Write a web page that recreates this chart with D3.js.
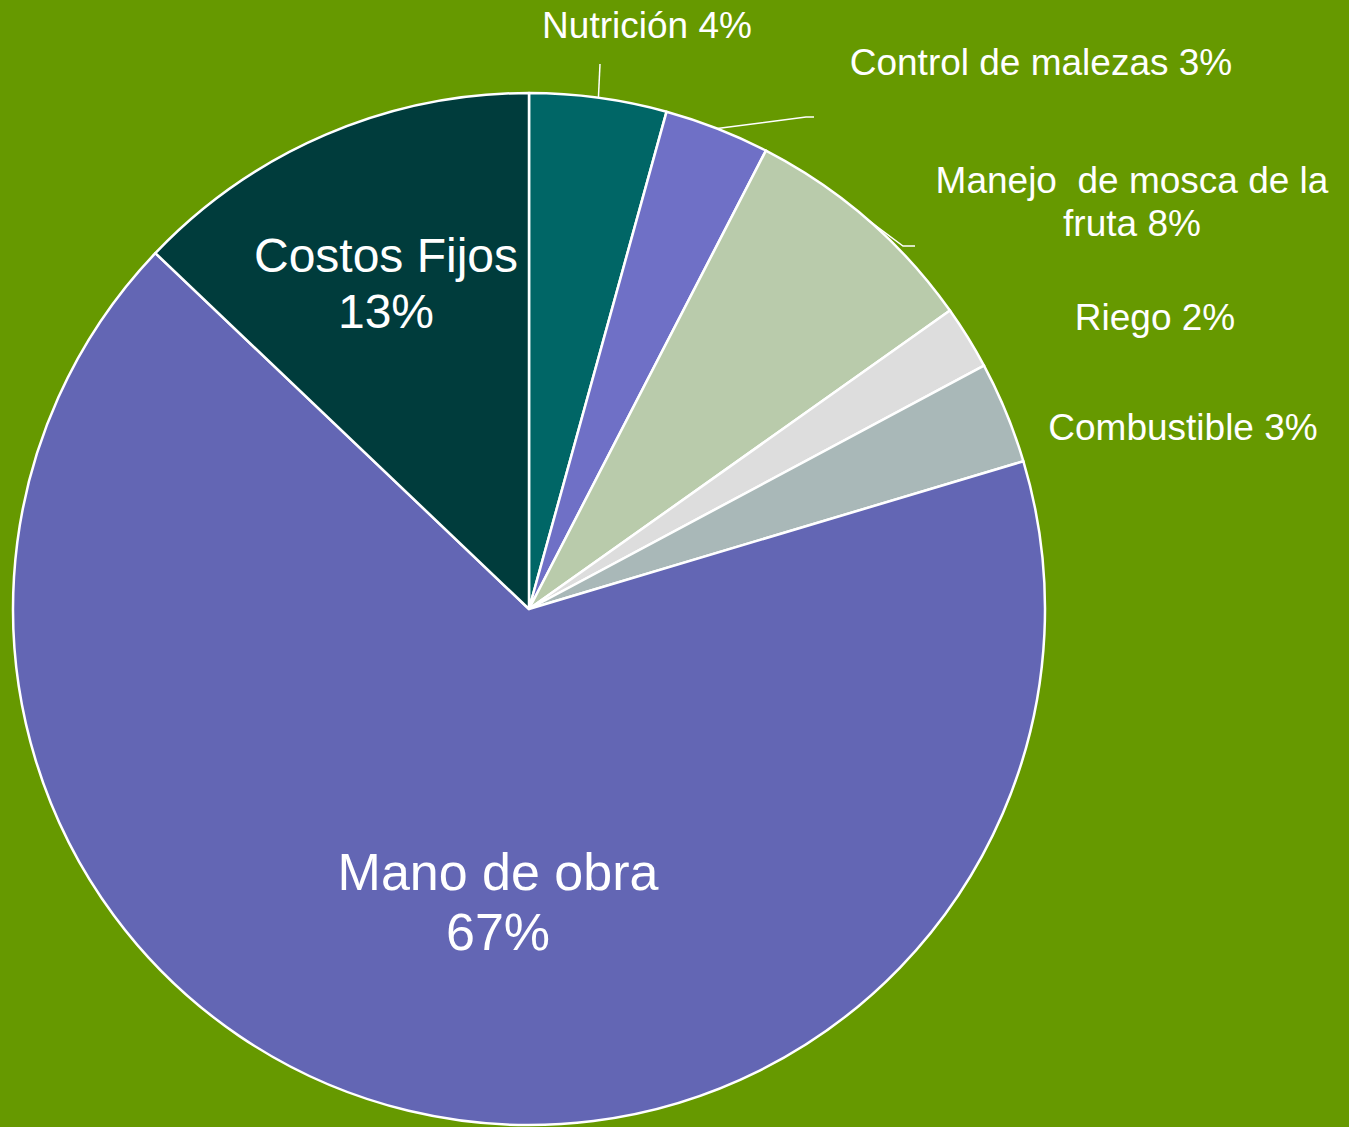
<!DOCTYPE html>
<html>
<head>
<meta charset="utf-8">
<script src="https://cdn.jsdelivr.net/npm/d3@7"></script>
<style>
  html, body { margin: 0; padding: 0; background: #669900; }
  svg { display: block; }
  text { font-family: "Liberation Sans", Arial, sans-serif; fill: #fff; }
</style>
</head>
<body>
<div id="chart"></div>
<script>
// datos
const categories = ["Nutrición", "Control de malezas", "Manejo  de mosca de la fruta", "Riego", "Combustible", "Mano de obra", "Costos Fijos"];
const values = [4.3, 3.3, 7.6, 2.0, 3.2, 66.8, 12.9];
const pctLabels = ["4%", "3%", "8%", "2%", "3%", "67%", "13%"];
const colors = ["#006666", "#6F70C6", "#B9CBAB", "#DDDDDD", "#A9B8B8", "#6366B4", "#003C3C"];

// set the dimensions
const width = 1349, height = 1127;
const cx = 529, cy = 609, radius = 516;

// posiciones de etiquetas (relativas al centro) y lineas guia
const labelLayout = [
  {lines: ["Nutrición 4%"], x: 118, y: -571, size: 37, leader: [[71, -545]]},
  {lines: ["Control de malezas 3%"], x: 512, y: -534, size: 37, leader: [[277, -492], [285, -492]]},
  {lines: ["Manejo  de mosca de la", "fruta 8%"], x: 603, y: -416, size: 37, lh: 43, leader: [[374, -363], [386, -363]]},
  {lines: ["Riego 2%"], x: 626, y: -279, size: 37},
  {lines: ["Combustible 3%"], x: 654, y: -169, size: 37},
  {lines: ["Mano de obra", "67%"], x: -31, y: 281, size: 52, lh: 60},
  {lines: ["Costos Fijos", "13%"], x: -143, y: -337, size: 48, lh: 56}
];

const data = categories.map((c, i) => ({name: c, value: values[i], pct: pctLabels[i], color: colors[i]}));

const svg = d3.select("#chart")
  .append("svg")
  .attr("width", width)
  .attr("height", height);

svg.append("rect")
  .attr("width", width)
  .attr("height", height)
  .attr("fill", "#669900");

const g = svg.append("g")
  .attr("transform", `translate(${cx},${cy})`);

const pie = d3.pie()
  .sort(null)
  .value(d => d.value);

const arc = d3.arc()
  .innerRadius(0)
  .outerRadius(radius);

const arcs = pie(data);

// slices
g.selectAll("path.slice")
  .data(arcs)
  .join("path")
  .attr("class", "slice")
  .attr("d", arc)
  .attr("fill", d => d.data.color)
  .attr("stroke", "#fff")
  .attr("stroke-width", 2.5)
  .attr("stroke-linejoin", "round");

// lineas guia
arcs.forEach((d, i) => {
  const lay = labelLayout[i];
  if (!lay.leader) return;
  const a = (d.startAngle + d.endAngle) / 2;
  const pts = [[radius * Math.sin(a), -radius * Math.cos(a)]].concat(lay.leader);
  g.append("path")
    .attr("d", d3.line()(pts))
    .attr("fill", "none")
    .attr("stroke", "#fff")
    .attr("stroke-width", 1.5);
});

// etiquetas
labelLayout.forEach((lay) => {
  const t = g.append("text")
    .attr("text-anchor", "middle")
    .attr("font-size", lay.size + "px")
    .attr("x", lay.x)
    .attr("y", lay.y)
    .style("white-space", "pre")
    .attr("xml:space", "preserve");
  lay.lines.forEach((ln, j) => {
    t.append("tspan")
      .attr("x", lay.x)
      .attr("y", lay.y + j * (lay.lh || 0))
      .text(ln);
  });
});
</script>
</body>
</html>
